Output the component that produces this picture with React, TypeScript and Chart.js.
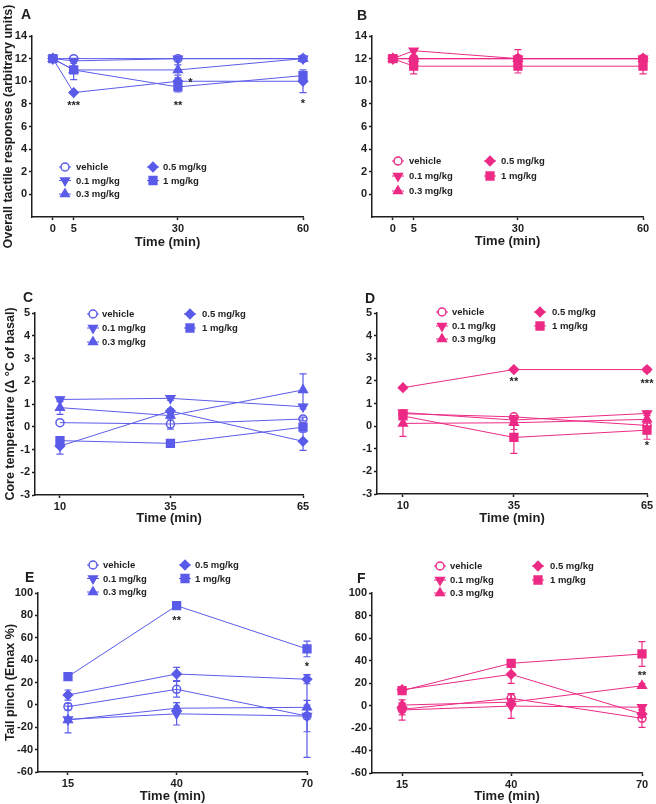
import React, { useEffect, useRef } from 'react';
import { Chart, registerables } from 'chart.js';
Chart.register(...registerables);

const FONT = "'Liberation Sans', Arial, sans-serif";
const TXT = '#1e1e1e';
const BLUE = '#5b5bea';
const PINK = '#ec2a85';

const SERIES_NAMES = ['vehicle', '0.1 mg/kg', '0.3 mg/kg', '0.5 mg/kg', '1 mg/kg'];
const X_TITLE = 'Time (min)';

// ---- time points ----
const X_AB = [0, 5, 30, 60];
const X_CD = [10, 35, 65];
const X_EF = [15, 40, 70];

// ---- tick labels ----
const Y_TICKS_AB = [0, 2, 4, 6, 8, 10, 12, 14];
const Y_TICKS_CD = [-3, -2, -1, 0, 1, 2, 3, 4, 5];
const Y_TICKS_EF = [-60, -40, -20, 0, 20, 40, 60, 80, 100];

// ---- Panel A ----
const A_VEH = [12, 12, 12, 12];
const A_D01 = [12, 11.8, 12, 12];
const A_D03 = [12, 11, 11, 12];
const A_D05 = [12, 9, 10, 10];
const A_D1 = [12, 11, 9.5, 10.5];
const A_VEH_E = [0, 0, 0, 0];
const A_D01_E = [0, 0.2, 0, 0];
const A_D03_E = [0, 0, 0.45, 0];
const A_D05_E = [0, 0, 0.3, 1];
const A_D1_E = [0, 0.85, 0.45, 0.2];

// ---- Panel B ----
const B_VEH = [12, 12, 12, 12];
const B_D01 = [12, 12.7, 12, 12];
const B_D03 = [12, 12, 12, 12];
const B_D05 = [12, 12, 12, 12];
const B_D1 = [12, 11.33, 11.33, 11.33];
const B_VEH_E = [0, 0, 0, 0];
const B_D01_E = [0, 0, 0, 0];
const B_D03_E = [0, 0, 0.8, 0];
const B_D05_E = [0, 0.3, 0.3, 0.3];
const B_D1_E = [0.2, 0.67, 0.6, 0.67];

// ---- Panel C ----
const C_VEH = [0.18, 0.12, 0.34];
const C_D01 = [1.2, 1.25, 0.88];
const C_D03 = [0.84, 0.49, 1.62];
const C_D05 = [-0.85, 0.69, -0.64];
const C_D1 = [-0.61, -0.73, -0.02];
const C_VEH_E = [0, 0.22, 0.08];
const C_D01_E = [0.1, 0.08, 0.1];
const C_D03_E = [0.3, 0.1, 0.7];
const C_D05_E = [0.35, 0.1, 0.4];
const C_D1_E = [0.1, 0.05, 0.1];

// ---- Panel D ----
const D_VEH = [0.55, 0.41, 0.03];
const D_D01 = [0.6, 0.27, 0.56];
const D_D03 = [0.12, 0.15, 0.3];
const D_D05 = [1.7, 2.5, 2.5];
const D_D1 = [0.45, -0.5, -0.18];
const D_VEH_E = [0.05, 0.05, 0.1];
const D_D01_E = [0.05, 0.05, 0.1];
const D_D03_E = [0.57, 0.3, 0.3];
const D_D05_E = [0.05, 0.05, 0.1];
const D_D1_E = [0.1, 0.7, 0.4];

// ---- Panel E ----
const E_VEH = [-1.6, 13.9, -10];
const E_D01 = [-13, -8, -10];
const E_D03 = [-13.5, -3, -2.2];
const E_D05 = [8.8, 27.6, 22.9];
const E_D1 = [25.3, 88.7, 50];
const E_VEH_E = [3, 7, 37];
const E_D01_E = [12, 10, 14];
const E_D03_E = [2, 2, 2];
const E_D05_E = [4.5, 6, 4];
const E_D1_E = [2, 3, 7];

// ---- Panel F ----
const F_VEH = [-3.4, 6.4, -11.4];
const F_D01 = [-4, -0.5, -1.5];
const F_D03 = [0.4, 3, 17.5];
const F_D05 = [14, 27.7, -7.5];
const F_D1 = [13.2, 37.5, 45.8];
const F_VEH_E = [5, 4, 8];
const F_D01_E = [9, 11, 2];
const F_D03_E = [2, 2, 2];
const F_D05_E = [2, 8, 3];
const F_D1_E = [2, 2, 11];

// ---- significance marks [x, y, text] ----
const A_STARS: [number, number, string][] = [[5, 8, '***'], [30, 8, '**'], [33, 10, '*'], [60, 8.2, '*']];
const B_STARS: [number, number, string][] = [];
const C_STARS: [number, number, string][] = [];
const D_STARS: [number, number, string][] = [[35, 2.03, '**'], [65, 1.96, '***'], [65, -0.77, '*']];
const E_STARS: [number, number, string][] = [[40, 77, '**'], [70, 36, '*']];
const F_STARS: [number, number, string][] = [[70, 28, '**']];

// marker styles per series
const MARKERS = [
  { kind: 'circle', pointStyle: 'circle', rot: 0, r: 4, filled: false },
  { kind: 'down', pointStyle: 'triangle', rot: 180, r: 5, filled: true },
  { kind: 'up', pointStyle: 'triangle', rot: 0, r: 5, filled: true },
  { kind: 'diamond', pointStyle: 'rectRot', rot: 0, r: 4.6, filled: true },
  { kind: 'square', pointStyle: 'rect', rot: 0, r: 5.5, filled: true },
];

function drawMarker(ctx: CanvasRenderingContext2D, kind: string, x: number, y: number, r: number, color: string, filled: boolean) {
  ctx.save();
  ctx.fillStyle = filled ? color : '#ffffff';
  ctx.strokeStyle = color;
  ctx.lineWidth = 1.5;
  ctx.beginPath();
  if (kind === 'circle') ctx.arc(x, y, r, 0, Math.PI * 2);
  else if (kind === 'down') { ctx.moveTo(x - r * 0.866, y - r * 0.5); ctx.lineTo(x + r * 0.866, y - r * 0.5); ctx.lineTo(x, y + r); }
  else if (kind === 'up') { ctx.moveTo(x, y - r); ctx.lineTo(x + r * 0.866, y + r * 0.5); ctx.lineTo(x - r * 0.866, y + r * 0.5); }
  else if (kind === 'diamond') { ctx.moveTo(x - r, y); ctx.lineTo(x, y - r); ctx.lineTo(x + r, y); ctx.lineTo(x, y + r); }
  else { const s = r * Math.SQRT1_2; ctx.rect(x - s, y - s, 2 * s, 2 * s); }
  ctx.closePath();
  ctx.fill();
  ctx.stroke();
  ctx.restore();
}

type PanelCfg = {
  letter: string; color: string;
  box: number[]; area: number[];
  xMin: number; xMax: number; xTicks: number[];
  yMin: number; yMax: number; yTicks: number[];
  yTitle: string; yTitleCX: number; xTitleCY: number;
  letterPos: number[];
  legend: { c1m: number; c1t: number; c2m: number; c2t: number; rows: number[] };
  xs: number[]; vals: number[][]; errs: number[][];
  stars: [number, number, string][];
};

const PANELS: PanelCfg[] = [
  {
    letter: 'A', color: BLUE, box: [0, 0, 328, 270], area: [32, 36, 303, 217],
    xMin: -5, xMax: 60, xTicks: X_AB, yMin: -2, yMax: 14, yTicks: Y_TICKS_AB,
    yTitle: 'Overall tactile responses (arbitrary units)', yTitleCX: 8.5, xTitleCY: 242,
    letterPos: [21, 19], legend: { c1m: 65, c1t: 76, c2m: 153, c2t: 163, rows: [167, 180.5, 194] },
    xs: X_AB, vals: [A_VEH, A_D01, A_D03, A_D05, A_D1], errs: [A_VEH_E, A_D01_E, A_D03_E, A_D05_E, A_D1_E], stars: A_STARS,
  },
  {
    letter: 'B', color: PINK, box: [328, 0, 328, 270], area: [372, 36, 643, 217],
    xMin: -5, xMax: 60, xTicks: X_AB, yMin: -2, yMax: 14, yTicks: Y_TICKS_AB,
    yTitle: '', yTitleCX: 0, xTitleCY: 241,
    letterPos: [357, 20], legend: { c1m: 398, c1t: 409, c2m: 490, c2t: 501, rows: [161, 176, 191] },
    xs: X_AB, vals: [B_VEH, B_D01, B_D03, B_D05, B_D1], errs: [B_VEH_E, B_D01_E, B_D03_E, B_D05_E, B_D1_E], stars: B_STARS,
  },
  {
    letter: 'C', color: BLUE, box: [0, 270, 328, 260], area: [35, 313, 303, 495],
    xMin: 4.35, xMax: 65, xTicks: X_CD, yMin: -3, yMax: 5, yTicks: Y_TICKS_CD,
    yTitle: 'Core temperature (\u0394 \u00B0C of basal)', yTitleCX: 11, xTitleCY: 518,
    letterPos: [23, 302], legend: { c1m: 93, c1t: 102, c2m: 190, c2t: 202, rows: [314, 328, 342] },
    xs: X_CD, vals: [C_VEH, C_D01, C_D03, C_D05, C_D1], errs: [C_VEH_E, C_D01_E, C_D03_E, C_D05_E, C_D1_E], stars: C_STARS,
  },
  {
    letter: 'D', color: PINK, box: [328, 270, 328, 260], area: [377, 313, 647, 494],
    xMin: 4.15, xMax: 65, xTicks: X_CD, yMin: -3, yMax: 5, yTicks: Y_TICKS_CD,
    yTitle: '', yTitleCX: 0, xTitleCY: 518,
    letterPos: [365, 303], legend: { c1m: 442, c1t: 452, c2m: 540, c2t: 552, rows: [312, 326, 339] },
    xs: X_CD, vals: [D_VEH, D_D01, D_D03, D_D05, D_D1], errs: [D_VEH_E, D_D01_E, D_D03_E, D_D05_E, D_D1_E], stars: D_STARS,
  },
  {
    letter: 'E', color: BLUE, box: [0, 530, 328, 274], area: [38, 593, 307, 772],
    xMin: 8.1, xMax: 70, xTicks: X_EF, yMin: -60, yMax: 100, yTicks: Y_TICKS_EF,
    yTitle: 'Tail pinch (Emax %)', yTitleCX: 10.5, xTitleCY: 796.5,
    letterPos: [25, 582], legend: { c1m: 93, c1t: 103, c2m: 185, c2t: 195, rows: [565, 578.5, 592] },
    xs: X_EF, vals: [E_VEH, E_D01, E_D03, E_D05, E_D1], errs: [E_VEH_E, E_D01_E, E_D03_E, E_D05_E, E_D1_E], stars: E_STARS,
  },
  {
    letter: 'F', color: PINK, box: [328, 530, 328, 274], area: [372, 593, 642, 773],
    xMin: 8.1, xMax: 70, xTicks: X_EF, yMin: -60, yMax: 100, yTicks: Y_TICKS_EF,
    yTitle: '', yTitleCX: 0, xTitleCY: 796.5,
    letterPos: [357, 583], legend: { c1m: 440, c1t: 450, c2m: 538, c2t: 550, rows: [566, 580, 593] },
    xs: X_EF, vals: [F_VEH, F_D01, F_D03, F_D05, F_D1], errs: [F_VEH_E, F_D01_E, F_D03_E, F_D05_E, F_D1_E], stars: F_STARS,
  },
];

const decorPlugin = {
  id: 'decor',
  beforeDatasetsDraw(chart: any) {
    const { ctx } = chart;
    const xs = chart.scales.x, ys = chart.scales.y;
    chart.data.datasets.forEach((ds: any) => {
      ctx.save();
      ctx.strokeStyle = ds.borderColor;
      ctx.lineWidth = 1.2;
      ds.data.forEach((p: any, i: number) => {
        const e = ds.errors[i];
        if (!e) return;
        const px = xs.getPixelForValue(p.x);
        const y1 = ys.getPixelForValue(p.y + e);
        const y2 = ys.getPixelForValue(p.y - e);
        ctx.beginPath();
        ctx.moveTo(px, y1); ctx.lineTo(px, y2);
        ctx.moveTo(px - 3.5, y1); ctx.lineTo(px + 3.5, y1);
        ctx.moveTo(px - 3.5, y2); ctx.lineTo(px + 3.5, y2);
        ctx.stroke();
      });
      ctx.restore();
    });
  },
  afterDraw(chart: any, _a: any, opts: any) {
    const { ctx } = chart;
    const cfg: PanelCfg = opts.cfg;
    const ox = cfg.box[0], oy = cfg.box[1];
    ctx.save();
    // panel letter
    ctx.fillStyle = TXT;
    ctx.font = `bold 14px ${FONT}`;
    ctx.textAlign = 'left';
    ctx.textBaseline = 'alphabetic';
    ctx.fillText(cfg.letter, cfg.letterPos[0] - ox, cfg.letterPos[1] - oy);
    // legend
    const L = cfg.legend;
    ctx.font = `bold 9.5px ${FONT}`;
    ctx.textBaseline = 'middle';
    SERIES_NAMES.forEach((name, i) => {
      const col = i < 3 ? 0 : 1;
      const row = i < 3 ? i : i - 3;
      const mx = (col === 0 ? L.c1m : L.c2m) - ox;
      const tx = (col === 0 ? L.c1t : L.c2t) - ox;
      const my = L.rows[row] - oy;
      const m = MARKERS[i];
      ctx.strokeStyle = cfg.color;
      ctx.lineWidth = 1;
      ctx.beginPath(); ctx.moveTo(mx - 6, my); ctx.lineTo(mx + 6, my); ctx.stroke();
      drawMarker(ctx, m.kind, mx, my, m.r, cfg.color, m.filled);
      ctx.fillStyle = TXT;
      ctx.fillText(name, tx, my + 0.5);
    });
    // stars
    const xs = chart.scales.x, ys = chart.scales.y;
    ctx.font = `bold 11px ${FONT}`;
    ctx.textAlign = 'center';
    ctx.textBaseline = 'middle';
    ctx.fillStyle = TXT;
    cfg.stars.forEach(([sx, sy, t]) => {
      ctx.fillText(t, xs.getPixelForValue(sx), ys.getPixelForValue(sy) + 2);
    });
    ctx.restore();
  },
};

function Panel({ cfg }: { cfg: PanelCfg }) {
  const ref = useRef<HTMLCanvasElement>(null);
  useEffect(() => {
    const [bl, bt, bw, bh] = cfg.box;
    const [al, at, ar, ab] = cfg.area;
    const yW = al - bl;
    const xH = bt + bh - ab;
    const padTop = at - bt;
    const padRight = bl + bw - ar;
    const xTitleFont = 13;
    const xPadBottom = Math.max(0, bt + bh - cfg.xTitleCY - (xTitleFont * 1.2) / 2);
    const yTitleFont = 12.5;
    const yPadTop = Math.max(0, cfg.yTitleCX - bl - (yTitleFont * 1.2) / 2);
    const n = cfg.vals.length;
    const datasets = cfg.vals.map((v, i) => {
      const m = MARKERS[i];
      const fill = m.filled ? cfg.color : 'rgba(255,255,255,0)';
      return {
        label: SERIES_NAMES[i],
        data: cfg.xs.map((x, j) => ({ x, y: v[j] })),
        errors: cfg.errs[i],
        order: n - 1 - i,
        borderColor: cfg.color,
        backgroundColor: fill,
        borderWidth: 1,
        pointStyle: m.pointStyle,
        pointRotation: m.rot,
        pointRadius: m.r,
        pointBorderWidth: 1.5,
        pointBorderColor: cfg.color,
        pointBackgroundColor: fill,
        tension: 0,
        clip: false,
      };
    });
    const tickFont = { family: FONT, size: 11, weight: 'bold' as const };
    const chart = new Chart(ref.current!, {
      type: 'line',
      data: { datasets: datasets as any },
      plugins: [decorPlugin as any],
      options: {
        responsive: false,
        animation: false,
        events: [],
        layout: { padding: { left: 0, top: padTop, right: padRight, bottom: 0 }, autoPadding: false },
        plugins: {
          legend: { display: false },
          tooltip: { enabled: false },
          decor: { cfg },
        } as any,
        scales: {
          x: {
            type: 'linear',
            min: cfg.xMin,
            max: cfg.xMax,
            afterBuildTicks: (s: any) => { s.ticks = cfg.xTicks.map((value) => ({ value })); },
            afterFit: (s: any) => { s.height = xH; },
            grid: { drawOnChartArea: false, drawTicks: true, tickLength: 3, tickColor: TXT, tickWidth: 1.5 },
            border: { display: true, color: TXT, width: 1.5 },
            ticks: { font: tickFont, color: TXT, padding: 2, maxRotation: 0, autoSkip: false },
            title: { display: true, text: X_TITLE, color: TXT, font: { family: FONT, size: xTitleFont, weight: 'bold' }, padding: { top: 0, bottom: xPadBottom } },
          },
          y: {
            type: 'linear',
            min: cfg.yMin,
            max: cfg.yMax,
            afterBuildTicks: (s: any) => { s.ticks = cfg.yTicks.map((value) => ({ value })); },
            afterFit: (s: any) => { s.width = yW; },
            grid: { drawOnChartArea: false, drawTicks: true, tickLength: 3, tickColor: TXT, tickWidth: 1.5 },
            border: { display: true, color: TXT, width: 1.5 },
            ticks: { font: tickFont, color: TXT, padding: 2, autoSkip: false },
            title: { display: !!cfg.yTitle, text: cfg.yTitle, color: TXT, font: { family: FONT, size: yTitleFont, weight: 'bold' }, padding: { top: yPadTop, bottom: 0 } },
          },
        },
      } as any,
    });
    return () => chart.destroy();
  }, [cfg]);
  const [l, t, w, h] = cfg.box;
  return (
    <canvas
      ref={ref}
      width={w}
      height={h}
      style={{ position: 'absolute', left: l, top: t, width: w, height: h }}
    />
  );
}

export default function App() {
  return (
    <div style={{ position: 'absolute', left: 0, top: 0, width: 656, height: 804, background: '#ffffff' }}>
      {PANELS.map((p) => (
        <Panel key={p.letter} cfg={p} />
      ))}
    </div>
  );
}
